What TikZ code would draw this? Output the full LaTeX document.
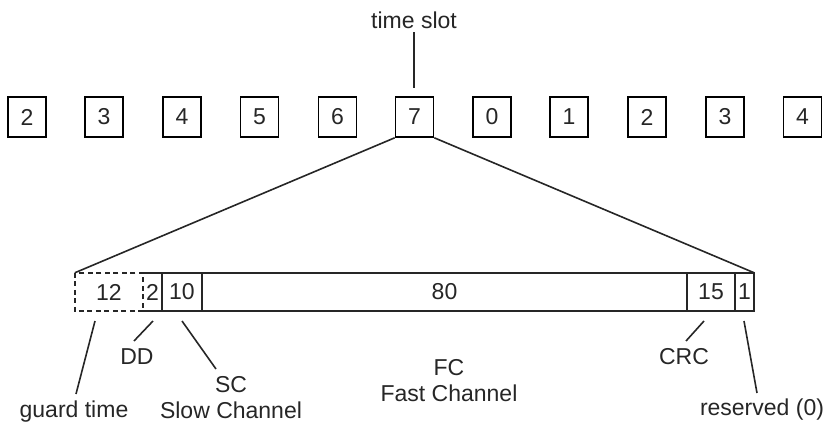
\documentclass[tikz,border=0pt]{standalone}
\usepackage{fontspec}
\setmainfont{Liberation Sans}
\begin{document}
\begin{tikzpicture}[x=1pt,y=-1pt,
  every node/.style={font=\fontsize{23}{26}\selectfont, text=black!85},
  slot/.style={draw, line width=1.6pt, minimum width=38pt, minimum height=40pt, inner sep=0pt},
  field/.style={minimum height=38pt, inner sep=0pt},
  lab/.style={inner sep=0pt, align=center},
  wire/.style={line width=1.6pt, black!85}]
\useasboundingbox (0,0) rectangle (828,426);
% time slots
\foreach \n/\x/\t in {s1/27/2, s2/104/3, s3/182/4, s4/259.5/5, s5/337.5/6, s6/414.5/7, s7/492/0, s8/569/1, s9/647/2, s10/725/3, s11/802.5/4}
  \node[slot] (\n) at (\x,117) {\t};
\node[lab] (ts) at (414,20) {time slot};
\coordinate (tsa) at (414,32);
\coordinate (tsb) at (414,88);
\draw[wire] (tsa) -- (tsb);
% frame fields
\node[field, minimum width=68pt] (guard) at (109,292) {12};
\node[field, minimum width=19pt] (dd) at (152.5,292) {2};
\node[field, minimum width=40pt] (sc) at (182,292) {10};
\node[field, minimum width=485pt] (fc) at (444.5,292) {80};
\node[field, minimum width=48pt] (crc) at (711,292) {15};
\node[field, minimum width=19pt] (res) at (744.5,292) {1};
\draw[wire, line width=1.8pt, dash pattern=on 5pt off 3.5pt] (guard.north west) rectangle (guard.south east);
\draw[wire, line width=1.8pt] (dd.north west) -- (res.north east) -- (res.south east) -- (dd.south west);
\draw[wire, line width=1.8pt] (sc.north west) -- (sc.south west)
  (fc.north west) -- (fc.south west)
  (crc.north west) -- (crc.south west)
  (res.north west) -- (res.south west);
% zoom lines
\draw[wire] (s6.south west) -- (guard.north west);
\draw[wire] (s6.south east) -- (res.north east);
% labels
\node[lab] (lguard) at (74,412) {guard time};
\node[lab] (ldd) at (137,357) {DD};
\node[lab] (lsc) at (231,398) {SC\\Slow Channel};
\node[lab] (lfc) at (449,381) {FC\\Fast Channel};
\node[lab] (lcrc) at (684,357) {CRC};
\node[lab] (lres) at (762,410) {reserved (0)};
% pointer lines
\coordinate (g1) at (95,321); \coordinate (g2) at (76,394);
\coordinate (d1) at (153,321); \coordinate (d2) at (134,341);
\coordinate (c1) at (182,321); \coordinate (c2) at (216,369);
\coordinate (r1) at (704,321); \coordinate (r2) at (686,341);
\coordinate (e1) at (744,321); \coordinate (e2) at (757,393);
\draw[wire] (g1) -- (g2);
\draw[wire] (d1) -- (d2);
\draw[wire] (c1) -- (c2);
\draw[wire] (r1) -- (r2);
\draw[wire] (e1) -- (e2);
\end{tikzpicture}
\end{document}
